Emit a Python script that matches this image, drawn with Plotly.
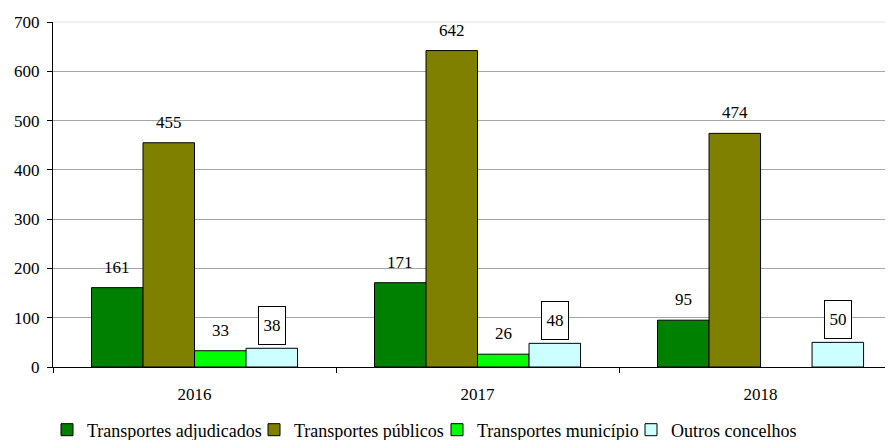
import plotly.graph_objects as go

years = ["2016", "2017", "2018"]
adjudicados = [161, 171, 95]
publicos = [455, 642, 474]
municipio = [33, 26, None]
outros = [38, 48, 50]

series = [
    ("Transportes adjudicados", adjudicados, "#008000", False),
    ("Transportes públicos", publicos, "#808000", False),
    ("Transportes município", municipio, "#00FF00", False),
    ("Outros concelhos", outros, "#CCFFFF", True),
]

FONT = "Liberation Serif"
# page body has an 8px default margin; figure is sized to fit the 893x440 window
BODY = 8
W, H = 893 - BODY, 440 - BODY

def cx(px):
    return (px - BODY) / W

def cy(py):
    return 1 - (py - BODY) / H

legend_left = [47, 254, 437, 631]  # screen px of each legend entry's left edge
legend_mid_y = 430

bargap = 0.272
n = len(series)
bw = (1 - bargap) / n

fig = go.Figure()
annotations = []
layout_legends = {}
for i, (name, vals, color, boxed) in enumerate(series):
    lg = "legend" if i == 0 else f"legend{i + 1}"
    fig.add_trace(go.Bar(
        name=name, x=years, y=vals, legend=lg,
        marker=dict(color=color, line=dict(color="black", width=1)),
    ))
    layout_legends[lg] = dict(
        x=cx(legend_left[i]), xref="container", xanchor="left",
        y=cy(legend_mid_y), yref="container", yanchor="middle",
        orientation="h", font=dict(family=FONT, size=18, color="black"),
        bgcolor="rgba(0,0,0,0)", borderwidth=0,
    )
    off = (i - (n - 1) / 2) * bw
    for j, v in enumerate(vals):
        if v is None:
            continue
        a = dict(x=j + off, y=v, xref="x", yref="y", text=str(v), showarrow=False,
                 yanchor="bottom", font=dict(family=FONT, size=17, color="black"))
        if boxed:
            a.update(bordercolor="black", borderwidth=1, bgcolor="white",
                     borderpad=2, width=22, height=33, yshift=3)
        else:
            a.update(yshift=9)
        annotations.append(a)

fig.update_layout(
    barmode="group", bargap=bargap, bargroupgap=0,
    width=W, height=H,
    margin=dict(l=53 - BODY, r=0, t=22 - BODY, b=440 - 367, autoexpand=False),
    paper_bgcolor="white", plot_bgcolor="white",
    font=dict(family=FONT, size=17, color="black"),
    annotations=annotations,
    showlegend=True,
    shapes=[dict(type="line", xref="paper", yref="paper", x0=0, x1=1, y0=1, y1=1,
                 line=dict(color="#E0E0E0", width=1), layer="above")],
    xaxis=dict(type="category", range=[-0.5, 2.468], tickson="boundaries",
               ticks="outside", ticklen=5, tickcolor="black",
               showline=True, linecolor="black", linewidth=1, automargin=False,
               showgrid=False, ticklabelstandoff=12, fixedrange=True),
    yaxis=dict(range=[0, 700], dtick=100, showgrid=True, gridcolor="#A6A6A6",
               gridwidth=1, ticks="outside", ticklen=5, tickcolor="black",
               showline=True, linecolor="black", linewidth=1, zeroline=False,
               automargin=False, ticklabelstandoff=4, fixedrange=True),
    **layout_legends,
)

fig.write_html("out.html")
